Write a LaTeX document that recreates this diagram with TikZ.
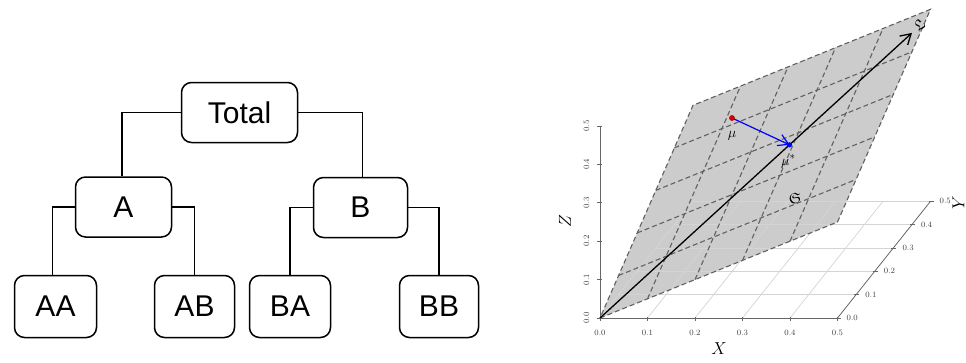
\documentclass[tikz,border=0pt]{standalone}
\usepackage{amssymb}
\usepackage{fontspec}
\newfontfamily\helv{Liberation Sans}
\usetikzlibrary{arrows.meta}

\tikzset{
  tbox/.style={draw, line width=1.5pt, rounded corners=10pt, inner sep=0pt,
    font=\helv\fontsize{30}{30}\selectfont},
  tline/.style={line width=1.5pt},
  planefill/.style={fill=black!20},
  floorgrid/.style={draw=black!17, line width=0.7pt},
  axisline/.style={draw=black!60, line width=0.8pt},
  planegrid/.style={draw=black!62, dash pattern=on 5pt off 3pt, line width=1.1pt},
  ticklab/.style={font=\fontsize{8.2}{9}\selectfont, text=black!75, inner sep=0pt},
  axlab/.style={font=\fontsize{17}{17}\selectfont, inner sep=0pt},
  ptlab/.style={font=\fontsize{15}{15}\selectfont, inner sep=0pt},
  barb/.style={-{Straight Barb[length=10pt,width=12pt]}},
}

\begin{document}
\begin{tikzpicture}[x=1pt, y=-1pt]
\useasboundingbox (0,0) rectangle (966,362);

% ---------- hierarchy tree ----------
\node[tbox, minimum width=116pt, minimum height=60pt] (total) at (239.5,112.5) {Total};
\node[tbox, minimum width=96pt, minimum height=60pt] (A) at (123.5,207) {A};
\node[tbox, minimum width=94pt, minimum height=60pt] (B) at (360.5,207.5) {B};
\node[tbox, minimum width=82pt, minimum height=62pt] (AA) at (55.5,306.5) {AA};
\node[tbox, minimum width=80pt, minimum height=62pt] (AB) at (194.5,306.5) {AB};
\node[tbox, minimum width=81pt, minimum height=62pt] (BA) at (290,306.5) {BA};
\node[tbox, minimum width=79pt, minimum height=62pt] (BB) at (439,306.5) {BB};

\draw[tline] (total.west) -| ([xshift=-1.5pt]A.north);
\draw[tline] (total.east) -| ([xshift=2pt]B.north);
\draw[tline] (A.west) -| ([xshift=-3pt]AA.north);
\draw[tline] (A.east) -| (AB.north);
\draw[tline] (B.west) -| (BA.north);
\draw[tline] (B.east) -| (BB.north);

% ---------- 3D view: plane through the origin ----------
\begin{scope}[shift={(600,318)}, x={(475pt,0pt)}, y={(186pt,233.4pt)}, z={(0pt,384pt)}]
  \coordinate (O) at (0,0,0);
  \coordinate (Ltip) at (0.479,0.454,0.4665);
  \coordinate (mustar) at (0.291,0.2757,0.2834);

  % shaded plane z = (x+y)/2
  \fill[planefill] (0,0,0) -- (0.5,0,0.25) -- (0.5,0.5,0.5) -- (0,0.5,0.25) -- cycle;

  % floor grid
  \foreach \v in {0.1,0.2,0.3,0.4,0.5}
    \draw[floorgrid] (0,\v,0) -- (0.5,\v,0);
  \foreach \u in {0,0.1,0.2,0.3,0.4}
    \draw[floorgrid] (\u,0,0) -- (\u,0.5,0);

  % axes
  \draw[axisline] (0,0,0) -- (0.5,0,0);
  \draw[axisline] (0.5,0,0) -- (0.5,0.5,0);
  \draw[axisline] (0,0,0) -- (0,0,0.5);

  % ticks and tick labels
  \foreach \u in {0.0,0.1,0.2,0.3,0.4,0.5} {
    \draw[axisline] (\u,0,0) ++(0pt,1.5pt) -- ++(0pt,-4.5pt);
    \node[ticklab, yshift=-14.5pt] at (\u,0,0) {\u};
    \draw[axisline] (0,0,\u) ++(-3pt,0pt) -- ++(5pt,0pt);
    \node[ticklab, xshift=-13.5pt, rotate=90] at (0,0,\u) {\u};
    \draw[axisline] (0.5,\u,0) ++(-2pt,0pt) -- ++(5pt,0pt);
    \node[ticklab, anchor=west, xshift=9pt] at (0.5,\u,0) {\u};
  }

  % dashed grid on the plane
  \foreach \u in {0.1,0.2,0.3,0.4} {
    \draw[planegrid] (\u,0,\u/2) -- (\u,0.5,\u/2+0.25);
    \draw[planegrid] (0,\u,\u/2) -- (0.5,\u,\u/2+0.25);
  }
  \draw[planegrid] (0,0,0) -- (0.5,0,0.25) -- (0.5,0.5,0.5) -- (0,0.5,0.25) -- cycle;
\end{scope}

% axis titles
\node[axlab] (xlab) at (719,349) {$X$};
\node[axlab, rotate=90] (zlab) at (565,221) {$Z$};
\node[axlab, rotate=90] (ylab) at (958.5,203) {$Y$};

% the line L and the projection of mu onto it
\draw[line width=1.3pt, barb] (O) -- (Ltip);
\node[ptlab, rotate=42] (Llab) at (919,25) {$\mathfrak{L}$};
\node[ptlab] (Slab) at (795,198) {$\mathfrak{S}$};

\coordinate (mu) at (732,118);
\draw[blue, line width=1.2pt, barb] (mu) -- (mustar);
\fill[red!85!black, draw=red!60!black, line width=0.4pt] (mu) circle (2.6pt);
\fill[blue] (mustar) circle (2.6pt);
\node[ptlab] (mulab) at (732,135.5) {$\mu$};
\node[ptlab, anchor=base west] (mustarlab) at (781,165) {$\mu^{*}$};

\end{tikzpicture}
\end{document}
